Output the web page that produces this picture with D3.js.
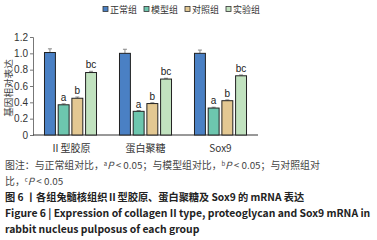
<!DOCTYPE html>
<html>
<head>
<meta charset="utf-8">
<script src="https://cdn.jsdelivr.net/npm/d3@7"></script>
<style>
  body { margin: 0; background: #fff; }
  svg { display: block; }
</style>
</head>
<body>
<div id="chart"></div>
<script>
const groups = ["Ⅱ型胶原", "蛋白聚糖", "Sox9"];
const series = ["正常组", "模型组", "对照组", "实验组"];
const colors = ["#4a80c4", "#6dc6ae", "#e3c892", "#c1e2bf"];
const normalVals = [1.01, 1.0, 1.0];
const modelVals = [0.37, 0.29, 0.33];
const controlVals = [0.45, 0.385, 0.42];
const testVals = [0.765, 0.685, 0.725];
const normalErr = [0.045, 0.05, 0.04];
const modelErr = [0.012, 0.01, 0.01];
const controlErr = [0.015, 0.01, 0.01];
const testErr = [0.015, 0.01, 0.01];
const sigLabels = ["", "a", "b", "bc"];
const yTicks = [0, 0.2, 0.4, 0.6, 0.8, 1.0, 1.2];

const W = 377, H = 240;
const svg = d3.select("#chart").append("svg")
  .attr("width", W).attr("height", H);

const valsBySeries = [normalVals, modelVals, controlVals, testVals];
const errBySeries = [normalErr, modelErr, controlErr, testErr];
const data = groups.flatMap((g, gi) => series.map((s, si) => ({
  group: g, series: s, si,
  value: valsBySeries[si][gi],
  err: errBySeries[si][gi]
})));

const x0 = d3.scaleBand().domain(groups).range([33, 258])
  .paddingInner(0.293).paddingOuter(0.1465);
const x1 = d3.scaleBand().domain(series).range([0, x0.bandwidth()]).paddingInner(0.13);
const y = d3.scaleLinear().domain([0, 1.2]).range([135, 37]);

// y axis
const yAxis = svg.append("g")
  .attr("transform", "translate(33,0)")
  .call(d3.axisLeft(y).tickValues(yTicks).tickSize(3).tickPadding(2)
    .tickFormat(d => d === 0 ? "0" : d3.format(".1f")(d)));
yAxis.select(".domain").attr("stroke", "#777");
yAxis.selectAll(".tick line").attr("stroke", "#777");
yAxis.selectAll("text")
  .attr("fill", "#333")
  .style("font-family", "Liberation Sans, Arial, sans-serif")
  .style("font-size", "10px");

// x baseline
svg.append("line")
  .attr("x1", 33).attr("x2", 258)
  .attr("y1", y(0)).attr("y2", y(0))
  .attr("stroke", "#333").attr("stroke-width", 1);

// bars
const bars = svg.append("g").selectAll("g")
  .data(data).enter().append("g")
  .attr("transform", d => `translate(${x0(d.group) + x1(d.series)},0)`);

// error bars
bars.append("line")
  .attr("x1", x1.bandwidth() / 2).attr("x2", x1.bandwidth() / 2)
  .attr("y1", d => y(d.value)).attr("y2", d => y(d.value + d.err))
  .attr("stroke", "#888").attr("stroke-width", 1);
bars.append("line")
  .attr("x1", x1.bandwidth() / 2 - 2).attr("x2", x1.bandwidth() / 2 + 2)
  .attr("y1", d => y(d.value + d.err)).attr("y2", d => y(d.value + d.err))
  .attr("stroke", "#888").attr("stroke-width", 1);

bars.append("rect")
  .attr("x", 0.5)
  .attr("y", d => y(d.value))
  .attr("width", x1.bandwidth() - 1)
  .attr("height", d => y(0) - y(d.value))
  .attr("fill", d => colors[d.si])
  .attr("stroke", "#222").attr("stroke-width", 1);

bars.append("text")
  .attr("x", x1.bandwidth() / 2)
  .attr("y", d => y(d.value + d.err) - 3)
  .attr("text-anchor", "middle")
  .style("font-family", "Liberation Sans, Arial, sans-serif")
  .style("font-size", "10px")
  .attr("fill", "#222")
  .text(d => sigLabels[d.si]);

// group labels
svg.append("g").selectAll("text")
  .data(groups).enter().append("text")
  .attr("x", d => x0(d) + x0.bandwidth() / 2)
  .attr("y", 152)
  .attr("text-anchor", "middle")
  .style("font-family", "Noto Sans CJK SC, sans-serif")
  .style("font-size", "10px")
  .attr("fill", "#333")
  .text(d => d);

// y label
svg.append("text")
  .attr("transform", "translate(11.5,88) rotate(-90)")
  .attr("text-anchor", "middle")
  .style("font-family", "Noto Sans CJK SC, sans-serif")
  .style("font-size", "9.6px")
  .attr("fill", "#444")
  .text("基因相对表达");

// legend
const legendX = [103, 144, 185, 226];
const legend = svg.append("g").selectAll("g")
  .data(series).enter().append("g")
  .attr("transform", (d, i) => `translate(${legendX[i]},9)`);
legend.append("rect")
  .attr("x", 0).attr("y", -2.5)
  .attr("width", 5).attr("height", 5)
  .attr("fill", (d, i) => colors[i])
  .attr("stroke", "#333").attr("stroke-width", 0.8);
legend.append("text")
  .attr("x", 7).attr("y", 3.5)
  .style("font-family", "Noto Sans CJK SC, sans-serif")
  .style("font-size", "9px")
  .attr("fill", "#333")
  .text(d => d);

// caption
const cap = svg.append("g")
  .style("font-family", "Noto Sans CJK SC, sans-serif");
const note1 = cap.append("text").attr("x", 5).attr("y", 169)
  .style("font-size", "9.9px").attr("fill", "#444");
note1.append("tspan").text("图注：与正常组对比，");
note1.append("tspan").attr("font-size", "6px").attr("dy", -3).text("a");
note1.append("tspan").attr("dy", 3).attr("font-style", "italic").text("P");
note1.append("tspan").text(" < 0.05；与模型组对比，");
note1.append("tspan").attr("font-size", "6px").attr("dy", -3).text("b");
note1.append("tspan").attr("dy", 3).attr("font-style", "italic").text("P");
note1.append("tspan").text(" < 0.05；与对照组对");
const note2 = cap.append("text").attr("x", 5).attr("y", 185)
  .style("font-size", "9.9px").attr("fill", "#444");
note2.append("tspan").text("比，");
note2.append("tspan").attr("font-size", "6px").attr("dy", -3).text("c");
note2.append("tspan").attr("dy", 3).attr("font-style", "italic").text("P");
note2.append("tspan").text(" < 0.05");
cap.append("text").attr("x", 5).attr("y", 201)
  .style("font-size", "10.2px").attr("fill", "#222").attr("font-weight", "bold")
  .text("图 6 丨各组兔髓核组织Ⅱ型胶原、蛋白聚糖及 Sox9 的 mRNA 表达");
cap.append("text").attr("x", 5).attr("y", 217)
  .style("font-size", "10.4px").attr("fill", "#222").attr("font-weight", "bold")
  .text("Figure 6 |  Expression of collagen II type, proteoglycan and Sox9 mRNA in");
cap.append("text").attr("x", 5).attr("y", 233)
  .style("font-size", "10.4px").attr("fill", "#222").attr("font-weight", "bold")
  .text("rabbit nucleus pulposus of each group");
</script>
</body>
</html>
